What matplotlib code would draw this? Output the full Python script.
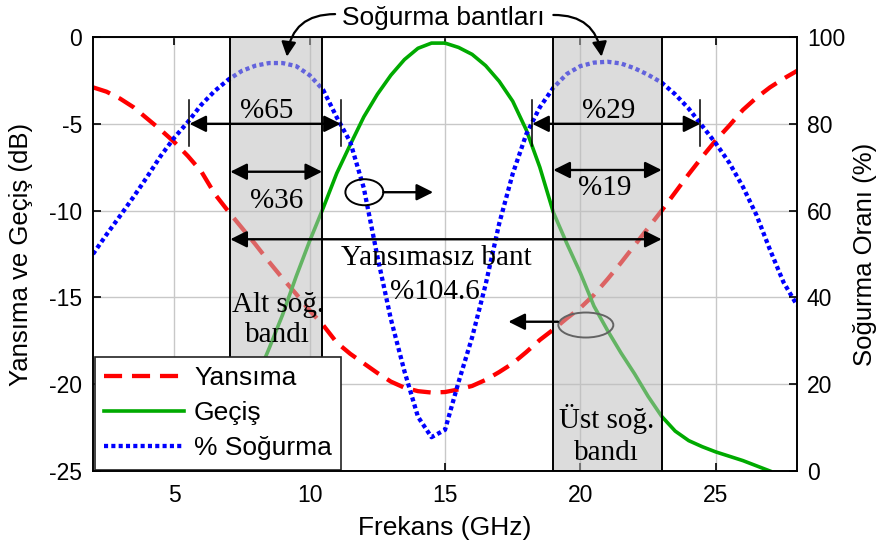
import numpy as np
import matplotlib
matplotlib.use('Agg')
import matplotlib.pyplot as plt
from matplotlib.patches import Rectangle, Ellipse

# frequency grid (GHz)
freq = np.arange(2.0, 28.01, 0.5)
# reflection (dB)
yansima = [-2.9, -3.15, -3.55, -4.05, -4.7, -5.35, -6.05, -6.85, -7.75, -9.05,
           -10.05, -11.0, -11.95, -12.95, -13.9, -14.8, -15.75, -16.6, -17.6, -18.25,
           -18.8, -19.35, -19.85, -20.2, -20.4, -20.48, -20.45, -20.3, -20.1, -19.75,
           -19.3, -18.8, -18.15, -17.45, -16.85, -16.2, -15.6, -14.85, -13.95, -13.0,
           -12.0, -11.0, -10.0, -8.95, -7.9, -6.9, -5.95, -5.1, -4.2, -3.5,
           -2.9, -2.4, -1.95]
# absorption ratio (%)
sogurma = [50.0, 54.5, 58.8, 63.2, 67.8, 72.6, 76.8, 80.4, 84.4, 87.6,
           90.2, 92.2, 93.4, 94.0, 94.0, 93.3, 91.2, 87.8, 81.5, 75.8,
           65.2, 49.5, 35.0, 23.0, 12.5, 7.8, 9.5, 20.5, 30.8, 43.0,
           57.0, 68.5, 77.6, 83.8, 88.3, 91.5, 93.3, 94.1, 94.3, 93.9,
           92.8, 91.3, 89.5, 86.8, 83.5, 79.5, 75.5, 71.0, 65.5, 59.0,
           51.0, 43.5, 38.2]
# transmission (dB)
freq_gecis = np.arange(6.5, 27.01, 0.5)
gecis = [-25.4, -23.5, -21.6, -19.8, -17.95, -16.0, -13.8, -11.75, -9.85, -7.85,
         -6.2, -4.6, -3.3, -2.2, -1.3, -0.65, -0.35, -0.35, -0.6, -1.0,
         -1.65, -2.55, -3.7, -5.35, -7.5, -10.1, -11.9, -13.6, -15.5, -16.9,
         -18.2, -19.4, -20.7, -21.85, -22.7, -23.25, -23.6, -23.9, -24.15, -24.4,
         -24.7, -25.0]

# absorption bands (GHz)
alt_band = (7.07, 10.46)
ust_band = (19.0, 23.0)
# 80 % absorption bandwidth limits (GHz)
alt_80 = (5.56, 11.15)
ust_80 = (18.22, 24.43)

plt.rcParams['font.family'] = ['Liberation Sans', 'DejaVu Sans']
serif = 'Liberation Serif'

fig = plt.figure(figsize=(8.81, 5.5), dpi=100)
ax = fig.add_axes([0.1056, 0.1436, 0.7991, 0.7891])
ax2 = ax.twinx()

ax.set_xlim(2, 28)
ax.set_ylim(-25, 0)
ax2.set_ylim(0, 100)
ax.set_xticks([5, 10, 15, 20, 25])
ax.set_yticks([-25, -20, -15, -10, -5, 0])
ax2.set_yticks([0, 20, 40, 60, 80, 100])
ax.set_yticklabels(['-25', '-20', '-15', '-10', '-5', '0'])

ax.grid(True, color='#c8c8c8', lw=1.0)
ax.set_axisbelow(True)

l1, = ax.plot(freq, yansima, color='#ff0000', lw=3.1, ls=(0, (4.2, 2.3)), zorder=2,
              label='Yansıma')
l2, = ax.plot(freq_gecis, gecis, color='#00aa00', lw=2.6, zorder=2, label='Geçiş')
l3, = ax.plot(freq, sogurma, color='#0000ff', lw=3.1, ls=(0, (0.95, 0.75)), zorder=2,
              transform=ax2.transData, label='% Soğurma')

# pointer ellipses
ax.add_patch(Ellipse((12.02, -8.94), 1.40, 1.50, fill=False, ec='k', lw=1.4, zorder=2.5))
ax.add_patch(Ellipse((20.2, -16.59), 2.03, 1.44, fill=False, ec='k', lw=1.4, zorder=2.5))

# shaded bands
for b in (alt_band, ust_band):
    ax.add_patch(Rectangle((b[0], -25), b[1] - b[0], 25, facecolor=(0.74, 0.74, 0.74, 0.53),
                           edgecolor='k', lw=1.4, zorder=3))

arr2 = dict(arrowstyle='<|-|>', color='k', lw=1.7, mutation_scale=25,
            shrinkA=0, shrinkB=0)
arr1 = dict(arrowstyle='-|>', color='k', lw=1.7, mutation_scale=25,
            shrinkA=0, shrinkB=0)

def span(x0, x1, y):
    ax.annotate('', xy=(x1, y), xytext=(x0, y), arrowprops=arr2, zorder=4)

span(alt_80[0], alt_80[1], -5)
span(ust_80[0], ust_80[1], -5)
span(alt_band[0], alt_band[1], -7.76)
span(ust_band[0], ust_band[1], -7.66)
span(alt_band[0], ust_band[1], -11.65)
for xv in (*alt_80, *ust_80):
    ax.plot([xv, xv], [-3.63, -6.28], color='k', lw=1.1, zorder=4)

ax.annotate('', xy=(14.56, -8.94), xytext=(12.72, -8.94), arrowprops=arr1, zorder=4)
ax.annotate('', xy=(17.34, -16.4), xytext=(19.17, -16.4), arrowprops=arr1, zorder=4)

tkw = dict(family=serif, fontsize=21, ha='center', va='baseline', zorder=5)
ax.text(8.42, -4.68, '%65', **tkw)
ax.text(8.79, -9.87, '%36', **tkw)
ax.text(21.03, -4.68, '%29', **tkw)
ax.text(20.9, -9.1, '%19', **tkw)
ax.text(14.66, -13.13, 'Yansımasız bant', **tkw)
ax.text(14.63, -15.11, '%104.6', **tkw)
ax.text(8.82, -15.82, 'Alt soğ.', **tkw)
ax.text(8.82, -17.55, 'bandı', **tkw)
ax.text(20.97, -22.54, 'Üst soğ.', **tkw)
ax.text(20.97, -24.37, 'bandı', **tkw)

# callout above the plot with curved arrows to both bands
ax.text(14.94, 0.69, 'Soğurma bantları', fontsize=19, ha='center', va='baseline',
        clip_on=False)
carr = dict(arrowstyle='-|>', color='k', lw=1.6, mutation_scale=22,
            shrinkA=0, shrinkB=0, clip_on=False)
ax.annotate('', xy=(9.16, -1.13), xytext=(10.94, 1.32), annotation_clip=False,
            arrowprops=dict(carr, connectionstyle='arc3,rad=0.44'))
ax.annotate('', xy=(20.78, -1.13), xytext=(19.0, 1.27), annotation_clip=False,
            arrowprops=dict(carr, connectionstyle='arc3,rad=-0.44'))

for a in (ax, ax2):
    for s in a.spines.values():
        s.set_linewidth(1.2)
ax.tick_params(axis='both', direction='in', length=6, width=1.2, labelsize=16.5,
               top=True, right=False, colors='k')
ax.tick_params(axis='x', pad=9)
ax.tick_params(axis='y', pad=8)
ax2.tick_params(axis='y', direction='in', length=6, width=1.2, labelsize=16.5, pad=7)

ax.set_xlabel('Frekans (GHz)', fontsize=19)
ax.set_ylabel('Yansıma ve Geçiş (dB)', fontsize=18.5)
ax2.set_ylabel('Soğurma Oranı (%)', fontsize=18.5)
ax.xaxis.set_label_coords(0.5, -0.104)
ax.yaxis.set_label_coords(-0.085, 0.5)
ax2.yaxis.set_label_coords(1.08, 0.5)

leg = ax.legend(handles=[l1, l2, l3], loc='lower left', bbox_to_anchor=(0.003, 0.003),
                borderaxespad=0, fontsize=19, handlelength=3.0, labelspacing=0.42,
                handletextpad=0.4, borderpad=0.35, fancybox=False, framealpha=1,
                edgecolor='#222222')
leg.get_frame().set_linewidth(1.2)
leg.set_zorder(6)

fig.savefig('out.png', dpi=100)
